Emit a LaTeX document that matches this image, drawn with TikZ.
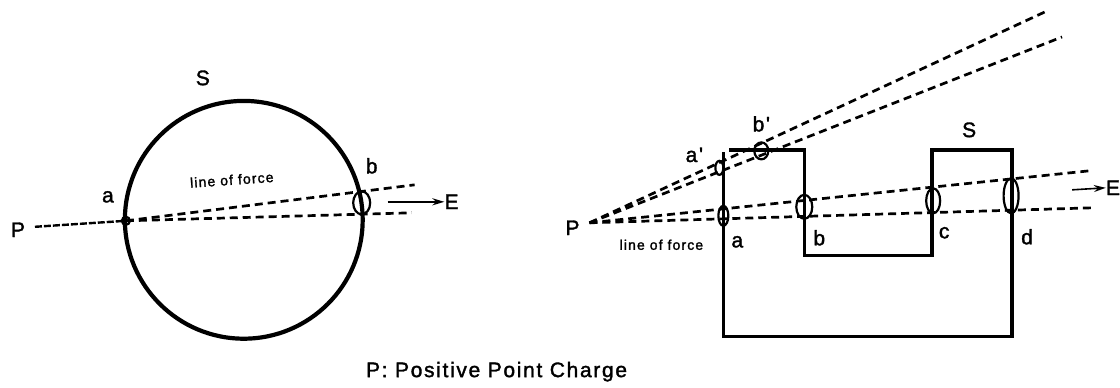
\documentclass[tikz,border=0pt]{standalone}
\usepackage{fontspec}
\setmainfont{Liberation Sans}
\newfontfamily\lblfont[LetterSpace=8,FakeBold=1.6]{Liberation Sans}
\usetikzlibrary{arrows.meta}

\begin{document}
\begin{tikzpicture}[x=1pt, y=-1pt, line join=miter]
  % 箭头头规格: 细长实心三角
  \def\arr{-{Stealth[width=7pt,length=12pt]}}
  \tikzset{
    wall/.style={line width=3.4pt},
    ring/.style={line width=2.2pt},
    fieldline/.style={line width=2.7pt, dash pattern=on 8pt off 5pt},
    lbl/.style={anchor=center, inner sep=0pt, font=\lblfont\fontsize{21}{25}\selectfont},
    tiny/.style={anchor=center, inner sep=0pt, font=\lblfont\fontsize{14}{17}\selectfont}
  }

  % ════ 左图：球面 S ════
  \draw[line width=4.2pt] (244,220) circle[radius=119];

  % ════ 左图：点电荷与力线 ════
  \coordinate (Pl)  at (35,227);
  \coordinate (al)  at (126,221);
  \coordinate (bl)  at (362,203);
  \coordinate (up1) at (415,185);
  \coordinate (lo1) at (412,213);
  \draw[line width=2.4pt, dash pattern=on 7pt off 2pt] (Pl) -- (al);
  \draw[fieldline] (al) -- (up1);
  \draw[fieldline] (al) -- (lo1);

  % ════ 左图：面元 a, b ════
  \draw[ring] (al) circle[radius=4];
  \draw[ring] (bl) ellipse[x radius=8.5, y radius=11.5];

  % ════ 左图：E 箭头 ════
  \coordinate (El0) at (388,202);
  \node[lbl] (El) at (452,202) {E};
  \draw[line width=2pt, \arr] (El0) -- (El.west);

  % ════ 右图：闭合面 S（折线）════
  \draw[wall] (730,150) -- (805,150) -- (805,256) -- (933,256) -- (933,150)
     -- (1013,150) -- (1013,337) -- (724,337) -- (724,152);

  % ════ 右图：由 P 发出的四条力线 ════
  \coordinate (Pr)  at (590,223);
  \coordinate (ur1) at (1050,10);
  \coordinate (ur2) at (1063,37);
  \coordinate (lr1) at (1090,171);
  \coordinate (lr2) at (1093,208);
  \foreach \t in {ur1,ur2,lr1,lr2}
    \draw[fieldline] (Pr) -- (\t);

  % ════ 右图：面元 a', b', a, b, c, d ════
  \draw[ring] (720,168)  ellipse[x radius=4,   y radius=7];
  \draw[ring] (762,151)  ellipse[x radius=7,   y radius=8.5];
  \draw[ring] (724,216)  ellipse[x radius=5,   y radius=10];
  \draw[ring] (805,207)  ellipse[x radius=8,   y radius=12];
  \draw[ring] (934,201)  ellipse[x radius=7,   y radius=12.5];
  \draw[ring] (1012,196) ellipse[x radius=7.5, y radius=17.5];

  % ════ 右图：E 箭头 ════
  \coordinate (Er0) at (1073,190);
  \node[lbl] (Er) at (1114,188) {E};
  \draw[line width=1.6pt, \arr] (Er0) -- (Er.west);

  % ════ 标签 ════
  \node[lbl] (Sl) at (203,78)  {S};
  \node[lbl] (Pll) at (18,230) {P};
  \node[lbl] (all) at (108,197) {a};
  \node[lbl] (bll) at (372,166) {b};
  \node[tiny, rotate=4] (lfl) at (232,180) {line of force};

  \node[lbl] (Sr)  at (970,130) {S};
  \node[lbl] (Prl) at (573,228) {P};
  \node[lbl] (arl) at (738,242) {a};
  \node[lbl] (brl) at (820,238) {b};
  \node[lbl] (crl) at (945,233) {c};
  \node[lbl] (drl) at (1028,237) {d};
  \node[lbl] (apl) at (695,155) {a'};
  \node[lbl] (bpl) at (762,124) {b'};
  \node[tiny] (lfr) at (662,245) {line of force};

  \node[lbl] (cap) at (497,372) {P: Positive Point Charge};

  % 钉死画布
  \path[use as bounding box] (0,0) rectangle (1120,388);
\end{tikzpicture}
\end{document}
